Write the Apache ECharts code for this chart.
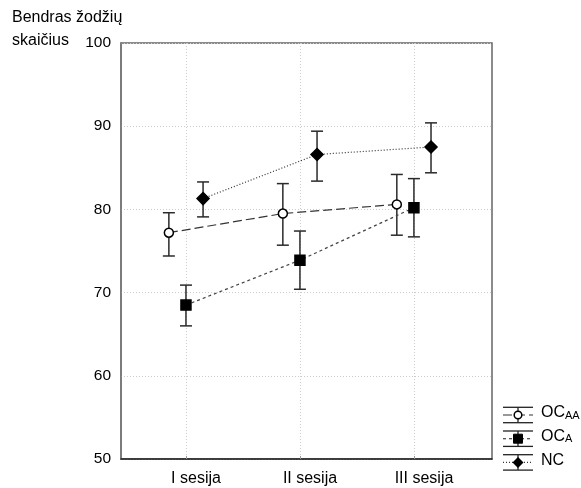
<!DOCTYPE html>
<html>
<head>
<meta charset="utf-8">
<script src="https://cdn.jsdelivr.net/npm/echarts@6/dist/echarts.min.js"></script>
<style>html,body{margin:0;padding:0;background:#fff;}#c{width:581px;height:488px;}</style>
</head>
<body>
<div id="c"></div>
<script>
// ---- data ----
const categories = ['I sesija', 'II sesija', 'III sesija'];
const ocaaMean = [77.2, 79.5, 80.6];
const ocaaLow  = [74.4, 75.7, 76.9];
const ocaaHigh = [79.6, 83.1, 84.2];
const ocaMean  = [68.5, 73.9, 80.2];
const ocaLow   = [66.0, 70.4, 76.7];
const ocaHigh  = [70.9, 77.4, 83.7];
const ncMean   = [81.3, 86.6, 87.5];
const ncLow    = [79.1, 83.4, 84.4];
const ncHigh   = [83.3, 89.4, 90.4];
const yMin = 50, yMax = 100, yStep = 10;
const yTitle = 'Bendras žodžių\nskaičius';

// ---- build ----
const FONT = 'Liberation Sans, Arial, sans-serif';
const dodge = 0.15;
const groups = [
  { name: 'OC_AA', off: -dodge, mean: ocaaMean, low: ocaaLow, high: ocaaHigh,
    symbol: 'circle', size: 9, fill: '#fff', dash: [9, 4], lineColor: '#333' },
  { name: 'OC_A', off: 0, mean: ocaMean, low: ocaLow, high: ocaHigh,
    symbol: 'rect', size: 10, fill: '#000', dash: [3, 3], lineColor: '#444' },
  { name: 'NC', off: dodge, mean: ncMean, low: ncLow, high: ncHigh,
    symbol: 'diamond', size: 12, fill: '#000', dash: [1, 2], lineColor: '#333' }
];

const series = [];
groups.forEach(g => {
  series.push({
    type: 'custom', name: g.name + '_err', xAxisIndex: 0, yAxisIndex: 0, z: 3,
    data: categories.map((c, i) => [i + 1 + g.off, g.low[i], g.high[i]]),
    renderItem: (params, api) => {
      const x = api.value(0);
      const lo = api.coord([x, api.value(1)]);
      const hi = api.coord([x, api.value(2)]);
      const cw = 6;
      const st = { stroke: '#2a2a2a', lineWidth: 1.5 };
      return { type: 'group', children: [
        { type: 'line', shape: { x1: lo[0], y1: lo[1], x2: hi[0], y2: hi[1] }, style: st },
        { type: 'line', shape: { x1: lo[0] - cw, y1: lo[1], x2: lo[0] + cw, y2: lo[1] }, style: st },
        { type: 'line', shape: { x1: hi[0] - cw, y1: hi[1], x2: hi[0] + cw, y2: hi[1] }, style: st }
      ]};
    }
  });
  series.push({
    type: 'line', name: g.name, xAxisIndex: 0, yAxisIndex: 0, z: 4,
    data: categories.map((c, i) => [i + 1 + g.off, g.mean[i]]),
    symbol: g.symbol, symbolSize: g.size,
    itemStyle: { color: g.fill, borderColor: '#000', borderWidth: 1.5 },
    lineStyle: { color: g.lineColor, width: 1.2, type: g.dash },
    emphasis: { disabled: true }
  });
});

// legend glyphs (graphic)
const legendX = 503, legendW = 30, legendY0 = 415, legendDy = 23.7;
const labels = [
  { a: 'OC', b: 'AA' }, { a: 'OC', b: 'A' }, { a: 'NC', b: '' }
];
const legendGraphic = [];
groups.forEach((g, i) => {
  const cy = legendY0 + i * legendDy;
  const cx = legendX + legendW / 2;
  const st = { stroke: '#222', lineWidth: 1.3 };
  legendGraphic.push(
    { type: 'line', shape: { x1: legendX, y1: cy - 7.7, x2: legendX + legendW, y2: cy - 7.7 }, style: st },
    { type: 'line', shape: { x1: legendX, y1: cy + 7.7, x2: legendX + legendW, y2: cy + 7.7 }, style: st },
    { type: 'line', shape: { x1: cx, y1: cy - 7.7, x2: cx, y2: cy + 7.7 }, style: st },
    { type: 'line', shape: { x1: legendX, y1: cy, x2: legendX + legendW, y2: cy },
      style: { stroke: g.lineColor, lineWidth: 1.2, lineDash: g.dash } }
  );
  if (g.symbol === 'circle') {
    legendGraphic.push({ type: 'circle', shape: { cx: cx, cy: cy, r: 3.8 }, style: { fill: '#fff', stroke: '#000', lineWidth: 1.5 } });
  } else if (g.symbol === 'rect') {
    legendGraphic.push({ type: 'rect', shape: { x: cx - 4.5, y: cy - 4.5, width: 9, height: 9 }, style: { fill: '#000', stroke: '#000' } });
  } else {
    legendGraphic.push({ type: 'polygon', shape: { points: [[cx, cy - 5.5], [cx + 5.5, cy], [cx, cy + 5.5], [cx - 5.5, cy]] }, style: { fill: '#000' } });
  }
  const lb = labels[i];
  legendGraphic.push({
    type: 'text', left: 541, top: cy - 10,
    style: {
      text: '{a|' + lb.a + '}' + (lb.b ? '{b|' + lb.b + '}' : ''),
      rich: {
        a: { fontSize: 16, fontFamily: FONT, fill: '#000', verticalAlign: 'bottom' },
        b: { fontSize: 11, fontFamily: FONT, fill: '#000', padding: [7, 0, 0, 0], verticalAlign: 'bottom' }
      }
    }
  });
});

const option = {
  animation: false,
  backgroundColor: '#fff',
  grid: [
    { left: 121, right: 89, top: 43, bottom: 29, show: true, borderColor: '#666', borderWidth: 1.5, containLabel: false },
    { left: 186, right: 167, top: 43, bottom: 29, show: false, containLabel: false }
  ],
  xAxis: [
    { type: 'value', gridIndex: 0, min: 0.43, max: 3.685,
      axisLine: { show: true, onZero: false, lineStyle: { color: '#222', width: 1.5 } },
      axisTick: { show: false }, axisLabel: { show: false }, splitLine: { show: false } },
    { type: 'category', gridIndex: 1, data: categories, boundaryGap: false,
      axisLine: { show: false },
      axisTick: { show: true, inside: true, length: 3, lineStyle: { color: '#999' } },
      axisLabel: { show: true, margin: 12, fontSize: 16, fontFamily: FONT, color: '#000', padding: [0, 0, 0, 20] },
      splitLine: { show: true, lineStyle: { color: '#ccc', type: [1, 2], width: 1 } } }
  ],
  yAxis: [
    { type: 'value', gridIndex: 0, min: yMin, max: yMax, interval: yStep,
      axisLine: { show: true, lineStyle: { color: '#777', width: 1.5 } },
      axisTick: { show: false },
      axisLabel: { margin: 10, fontSize: 15.5, fontFamily: FONT, color: '#000' },
      splitLine: { show: true, lineStyle: { color: '#ccc', type: [1, 2], width: 1 } } },
    { type: 'value', gridIndex: 1, min: yMin, max: yMax, show: false, splitLine: { show: false } }
  ],
  graphic: [
    { type: 'text', left: 12, top: 6,
      style: { text: yTitle, fontSize: 16, fontFamily: FONT, fill: '#000', lineHeight: 23 } }
  ].concat(legendGraphic),
  series: series
};

const chart = echarts.init(document.getElementById('c'), null, { renderer: 'canvas' });
chart.setOption(option);
</script>
</body>
</html>
